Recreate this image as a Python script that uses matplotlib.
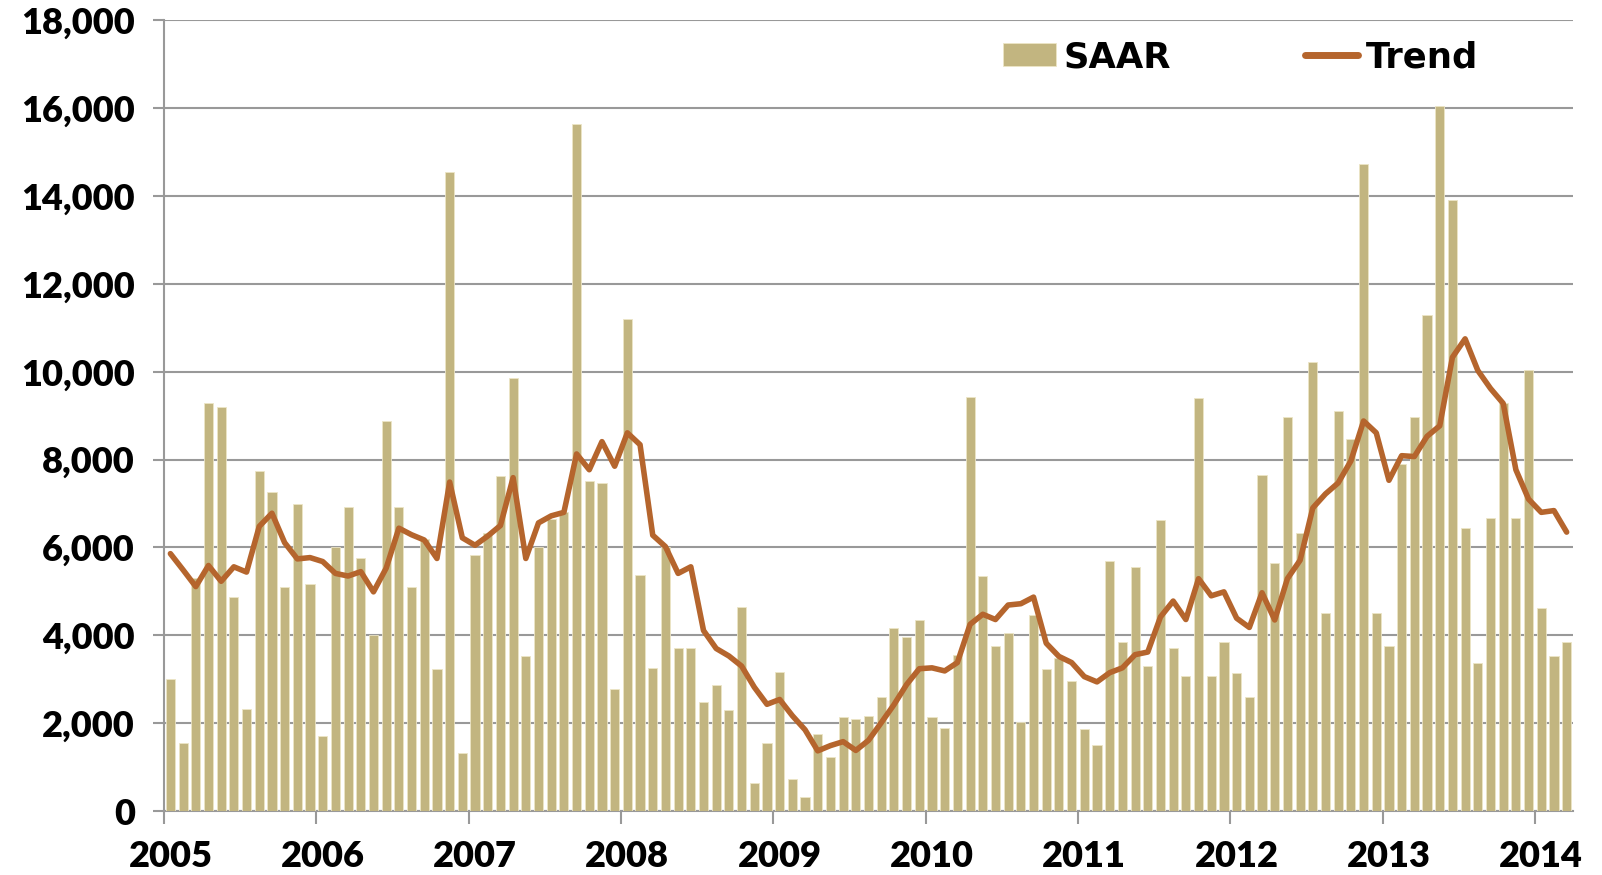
import numpy as np
import matplotlib
matplotlib.use("Agg")
import matplotlib.pyplot as plt

plt.rcParams['font.family'] = ['Lato', 'DejaVu Sans']

# monthly data, Jan 2005 .. Mar 2014
years = ["2005", "2006", "2007", "2008", "2009", "2010", "2011", "2012", "2013", "2014"]

saar = [
    3000, 1550, 5300, 9300, 9200, 4870, 2320, 7750, 7270, 5110, 6980, 5170,      # 2005
    1700, 6000, 6930, 5770, 4000, 8880, 6930, 5090, 6200, 3240, 14550, 1330,     # 2006
    5820, 6340, 7630, 9850, 3530, 6000, 6650, 6800, 15650, 7520, 7470, 2780,     # 2007
    11210, 5380, 3260, 6000, 3720, 3720, 2490, 2880, 2300, 4650, 630, 1550,      # 2008
    3170, 740, 330, 1750, 1230, 2150, 2100, 2170, 2600, 4170, 3960, 4360,        # 2009
    2130, 1880, 3560, 9420, 5360, 3760, 4050, 2020, 4470, 3230, 3480, 2950,      # 2010
    1870, 1510, 5700, 3840, 5550, 3300, 6630, 3710, 3070, 9400, 3070, 3840,      # 2011
    3140, 2600, 7650, 5650, 8960, 6320, 10220, 4510, 9100, 8480, 14740, 4510,    # 2012
    3750, 7890, 8980, 11290, 16040, 13920, 6440, 3360, 6680, 9300, 6680, 10040,  # 2013
    4630, 3520, 3840,                                                            # 2014
]

trend = [
    5860, 5490, 5110, 5590, 5230, 5560, 5440, 6480, 6780, 6110, 5740, 5770,
    5680, 5410, 5350, 5450, 4990, 5530, 6440, 6290, 6170, 5750, 7490, 6220,
    6050, 6260, 6500, 7590, 5750, 6560, 6720, 6800, 8130, 7770, 8410, 7850,
    8610, 8340, 6280, 6020, 5410, 5560, 4110, 3700, 3530, 3300, 2820, 2430,
    2540, 2170, 1850, 1370, 1490, 1580, 1380, 1610, 2010, 2420, 2880, 3240,
    3260, 3190, 3380, 4250, 4480, 4360, 4690, 4720, 4870, 3820, 3520, 3380,
    3060, 2940, 3150, 3260, 3560, 3620, 4420, 4780, 4360, 5290, 4900, 4990,
    4390, 4180, 4970, 4350, 5290, 5710, 6900, 7220, 7470, 7970, 8880, 8610,
    7530, 8090, 8070, 8530, 8770, 10330, 10750, 10030, 9620, 9280, 7770, 7100,
    6800, 6840, 6350,
]

bar_color = "#C2B580"
line_color = "#B5652D"
grid_color = "#999999"

fig = plt.figure(figsize=(16.02, 8.75), dpi=100)
ax = fig.add_axes([0.1024, 0.0731, 0.8795, 0.9036])

x = np.arange(len(saar))
bars = ax.bar(x, saar, width=0.72, color=bar_color, edgecolor="#ECE5C6", linewidth=0.6,
              label="SAAR", zorder=3)
line, = ax.plot(x, trend, color=line_color, lw=4, label="Trend", zorder=4,
                solid_joinstyle="round", solid_capstyle="round")

ax.set_xlim(-0.5, len(saar) - 0.5)
ax.set_ylim(0, 18000)

yt = np.arange(0, 18001, 2000)
ax.set_yticks(yt)
ax.set_yticklabels([f"{v:,}" for v in yt], fontsize=26, fontweight="heavy")
ax.yaxis.grid(True, color=grid_color, lw=1.5, zorder=0)
ax.set_axisbelow(True)

# year boundaries get tick marks, labels sit on the January bar
ax.set_xticks(np.arange(-0.5, len(saar), 12))
ax.set_xticklabels([])
ax.set_xticks(np.arange(0, len(saar), 12), minor=True)
ax.set_xticklabels(years, minor=True, fontsize=26, fontweight="heavy")

ax.tick_params(axis="x", which="major", length=9, width=1.5, color=grid_color)
ax.tick_params(axis="x", which="minor", length=0, pad=21)
ax.tick_params(axis="y", length=8, width=1.5, color=grid_color, pad=13)

for s in ["top", "right"]:
    ax.spines[s].set_visible(False)
for s in ["left", "bottom"]:
    ax.spines[s].set_color(grid_color)
    ax.spines[s].set_linewidth(1.5)

leg = ax.legend(handles=[bars, line], labels=["SAAR", "Trend"], ncol=2,
                loc="center left", bbox_to_anchor=(1003 / 1602, 1 - 57 / 875),
                bbox_transform=fig.transFigure, frameon=False, borderpad=0,
                borderaxespad=0, handlelength=1.5, handleheight=0.6,
                handletextpad=0.2, columnspacing=3.8,
                prop={"family": "DejaVu Sans", "weight": "bold", "size": 25.5})
for ln in leg.get_lines():
    ln.set_linewidth(5)

fig.savefig("out.png", dpi=100)
